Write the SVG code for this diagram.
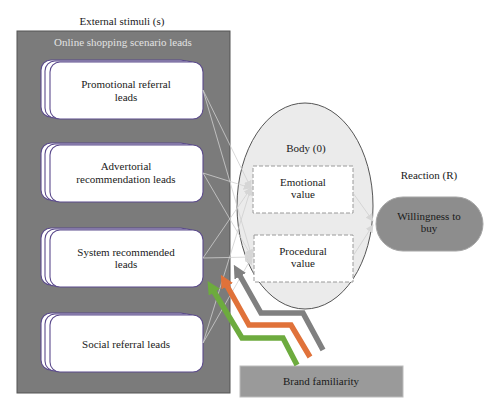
<svg xmlns="http://www.w3.org/2000/svg" width="500" height="415" viewBox="0 0 500 415">
<style>
text{font-family:"Liberation Serif","Times New Roman",serif;font-size:11px;fill:#1a1a1a;text-anchor:middle}
.card{fill:#fff;stroke:#5b4a8c;stroke-width:1.1}
.thin{stroke:#cfcfcf;stroke-width:0.8;fill:none}
.dash{fill:#fff;stroke:#9a9a9a;stroke-width:1;stroke-dasharray:4 2}
.band{fill:none;stroke-width:5.5;stroke-linejoin:miter}
</style>
<defs>
<marker id="thinHead" viewBox="0 0 10 10" refX="9" refY="5" markerWidth="8" markerHeight="8" markerUnits="userSpaceOnUse" orient="auto"><path d="M0,0 L10,5 L0,10 Z" fill="#d6d6d6"/></marker>
<marker id="hGray" viewBox="0 0 10 10" refX="2" refY="5" markerWidth="2.4" markerHeight="2.4" orient="auto"><path d="M0,0 L10,5 L0,10 Z" fill="#808080"/></marker>
<marker id="hOrange" viewBox="0 0 10 10" refX="2" refY="5" markerWidth="2.4" markerHeight="2.4" orient="auto"><path d="M0,0 L10,5 L0,10 Z" fill="#e0723a"/></marker>
<marker id="hGreen" viewBox="0 0 10 10" refX="2" refY="5" markerWidth="2.4" markerHeight="2.4" orient="auto"><path d="M0,0 L10,5 L0,10 Z" fill="#6dab3e"/></marker>
</defs>
<rect width="500" height="415" fill="#fff"/>
<text x="122" y="25">External stimuli (s)</text>
<g id="panel">
<rect x="17" y="31" width="213" height="362" fill="#7b7b7b" stroke="#555" stroke-width="1"/>
<text x="123" y="46" style="fill:#e2e2e2">Online shopping scenario leads</text>
</g>
<g id="lead1">
<rect class="card" x="41" y="60" width="150" height="57" rx="10"/>
<rect class="card" x="45" y="61" width="152" height="57" rx="10"/>
<rect class="card" x="50" y="62" width="153" height="57" rx="10"/>
<text x="126" y="88">Promotional referral</text>
<text x="126" y="101">leads</text>
</g>
<g id="lead2">
<rect class="card" x="41" y="143" width="150" height="57" rx="10"/>
<rect class="card" x="45" y="144" width="152" height="57" rx="10"/>
<rect class="card" x="50" y="145" width="153" height="57" rx="10"/>
<text x="126" y="170">Advertorial</text>
<text x="126" y="183">recommendation leads</text>
</g>
<g id="lead3">
<rect class="card" x="41" y="228" width="150" height="57" rx="10"/>
<rect class="card" x="45" y="229" width="152" height="57" rx="10"/>
<rect class="card" x="50" y="230" width="153" height="57" rx="10"/>
<text x="126" y="256">System recommended</text>
<text x="126" y="268">leads</text>
</g>
<g id="lead4">
<rect class="card" x="41" y="313" width="150" height="57" rx="10"/>
<rect class="card" x="45" y="314" width="152" height="57" rx="10"/>
<rect class="card" x="50" y="315" width="153" height="57" rx="10"/>
<text x="126" y="348">Social referral leads</text>
</g>
<g id="body">
<ellipse cx="305" cy="206" rx="68" ry="103" fill="#ebebeb" stroke="#555" stroke-width="1"/>
<text x="306" y="152">Body (0)</text>
</g>
<g id="emotional">
<rect class="dash" x="253" y="166" width="100" height="47"/>
<text x="303" y="186">Emotional</text>
<text x="303" y="198">value</text>
</g>
<g id="procedural">
<rect class="dash" x="254" y="235" width="99" height="47"/>
<text x="303" y="255">Procedural</text>
<text x="303" y="267">value</text>
</g>
<text x="429" y="179">Reaction (R)</text>
<g id="willingness">
<rect x="376" y="197" width="107" height="54" rx="27" fill="#8d8d8d" stroke="#a5a5a5" stroke-width="1"/>
<text x="429" y="220">Willingness to</text>
<text x="429" y="232">buy</text>
</g>
<g id="brand">
<rect x="240" y="366" width="163" height="31" fill="#9a9a9a" stroke="#bcbcbc" stroke-width="1"/>
<text x="321" y="385">Brand familiarity</text>
</g>
<g id="connectors">
<path class="thin" d="M203,90 L251,188" marker-end="url(#thinHead)"/>
<path class="thin" d="M203,90 L252,257" marker-end="url(#thinHead)"/>
<path class="thin" d="M203,173 L251,188" marker-end="url(#thinHead)"/>
<path class="thin" d="M203,173 L252,257" marker-end="url(#thinHead)"/>
<path class="thin" d="M203,258 L251,188" marker-end="url(#thinHead)"/>
<path class="thin" d="M203,258 L252,257" marker-end="url(#thinHead)"/>
<path class="thin" d="M203,343 L251,188" marker-end="url(#thinHead)"/>
<path class="thin" d="M203,343 L252,257" marker-end="url(#thinHead)"/>
<path class="thin" d="M353,193 L373,221" marker-end="url(#thinHead)"/>
<path class="thin" d="M353,256 L373,225" marker-end="url(#thinHead)"/>
<path class="band" stroke="#808080" d="M323,350 L303,313 L261,313 L239,274" marker-end="url(#hGray)"/>
<path class="band" stroke="#e0723a" d="M310,357 L291,325 L249,325 L226,284" marker-end="url(#hOrange)"/>
<path class="band" stroke="#6dab3e" d="M297,365 L283,338 L242,338 L213,290" marker-end="url(#hGreen)"/>
</g>
</svg>
